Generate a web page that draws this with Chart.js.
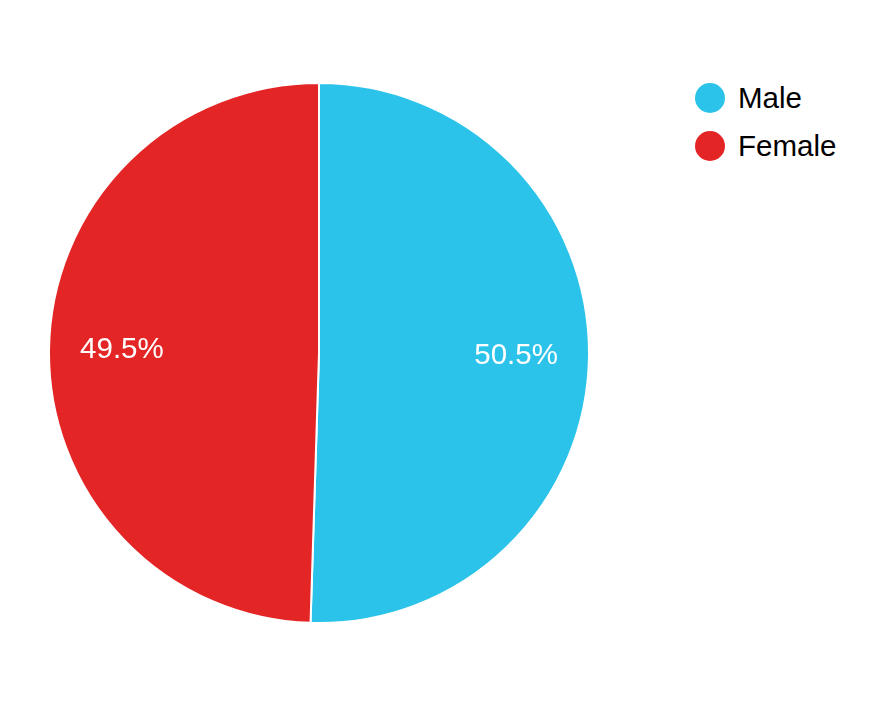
<!DOCTYPE html>
<html>
<head>
<meta charset="utf-8">
<script src="https://cdn.jsdelivr.net/npm/chart.js@4"></script>
<style>
    body { margin: 0; background: #fff; width: 890px; height: 704px; position: relative; font-family: "Liberation Sans", Arial, sans-serif; }
    #wrap { position: absolute; left: 48px; top: 82px; width: 542px; height: 542px; }
    #legend { position: absolute; left: 695px; top: 74px; }
    .item { height: 48px; display: flex; align-items: center; font-size: 29.5px; color: #000; }
    .dot { width: 30px; height: 30px; border-radius: 50%; margin-right: 13px; }
</style>
</head>
<body>
<div id="wrap"><canvas id="pie"></canvas></div>
<div id="legend"></div>
<script>
const labels = ['Male', 'Female'];
const values = [50.5, 49.5];
const colors = ['#2BC3EA', '#E32526'];

// legenda a direita
let html = '';
for (let i = 0; i < labels.length; i++) {
    html += `<div class="item"><div class="dot" style="background:${colors[i]}"></div>${labels[i]}</div>`;
}
document.getElementById('legend').innerHTML = html;

// escreve as porcentagens dentro de cada fatia
const percentLabels = {
    id: 'percentLabels',
    afterDatasetsDraw(chart) {
        const ctx = chart.ctx;
        const meta = chart.getDatasetMeta(0);
        ctx.save();
        ctx.fillStyle = '#fff';
        ctx.font = '29.5px "Liberation Sans", Arial, sans-serif';
        ctx.textAlign = 'center';
        ctx.textBaseline = 'middle';
        meta.data.forEach((arc, i) => {
            const mid = (arc.startAngle + arc.endAngle) / 2;
            const r = arc.outerRadius * 0.73;
            ctx.fillText(values[i].toFixed(1) + '%', arc.x + Math.cos(mid) * r, arc.y + Math.sin(mid) * r);
        });
        ctx.restore();
    }
};

const pie = document.getElementById('pie').getContext('2d');
new Chart(pie, {
    type: 'pie',
    data: {
        labels: labels,
        datasets: [
            {
                data: values,
                backgroundColor: colors,
                borderColor: '#fff',
                borderWidth: 2
            }
        ]
    },
    options: {
        responsive: true,
        maintainAspectRatio: false,
        animation: false,
        layout: { padding: 0 },
        plugins: {
            legend: { display: false },
            tooltip: { enabled: false }
        }
    },
    plugins: [percentLabels]
});
</script>
</body>
</html>
